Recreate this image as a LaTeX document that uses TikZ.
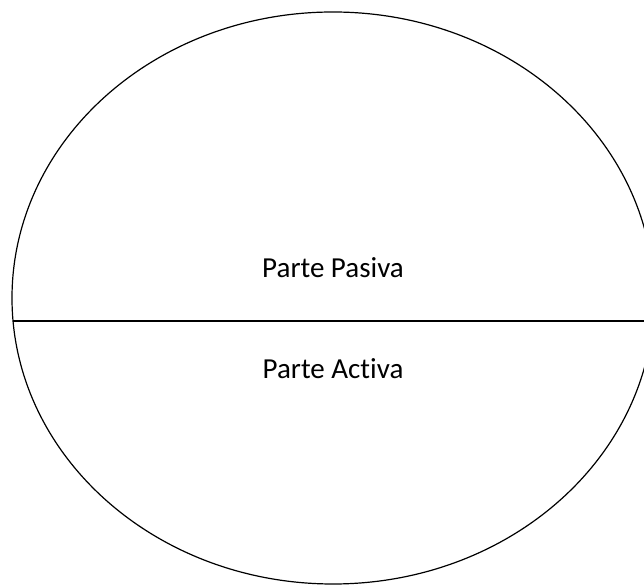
\documentclass[tikz,border=0pt]{standalone}
\usepackage{fontspec}
\setmainfont[Ligatures=NoCommon]{Carlito}
\usetikzlibrary{positioning}

\begin{document}
\begin{tikzpicture}[x=1pt, y=1pt,
        outline/.style={draw=black, line width=1.2pt},
        lbl/.style={font=\fontsize{29}{33}\selectfont, inner sep=0pt, anchor=base}
    ]
        \useasboundingbox (0,0) rectangle (644,585);
        % Body
        \draw[outline] (333,287) ellipse [x radius=321, y radius=286];
        \coordinate (cutL) at (13,264);
        \coordinate (cutR) at (644,264);
        \draw[outline] (cutL) -- (cutR);

        % Labels
        \node[lbl] (pasiva) at (333,307) {Parte Pasiva};
        \node[lbl] (activa) at (333,206) {Parte Activa};
    \end{tikzpicture}
\end{document}
